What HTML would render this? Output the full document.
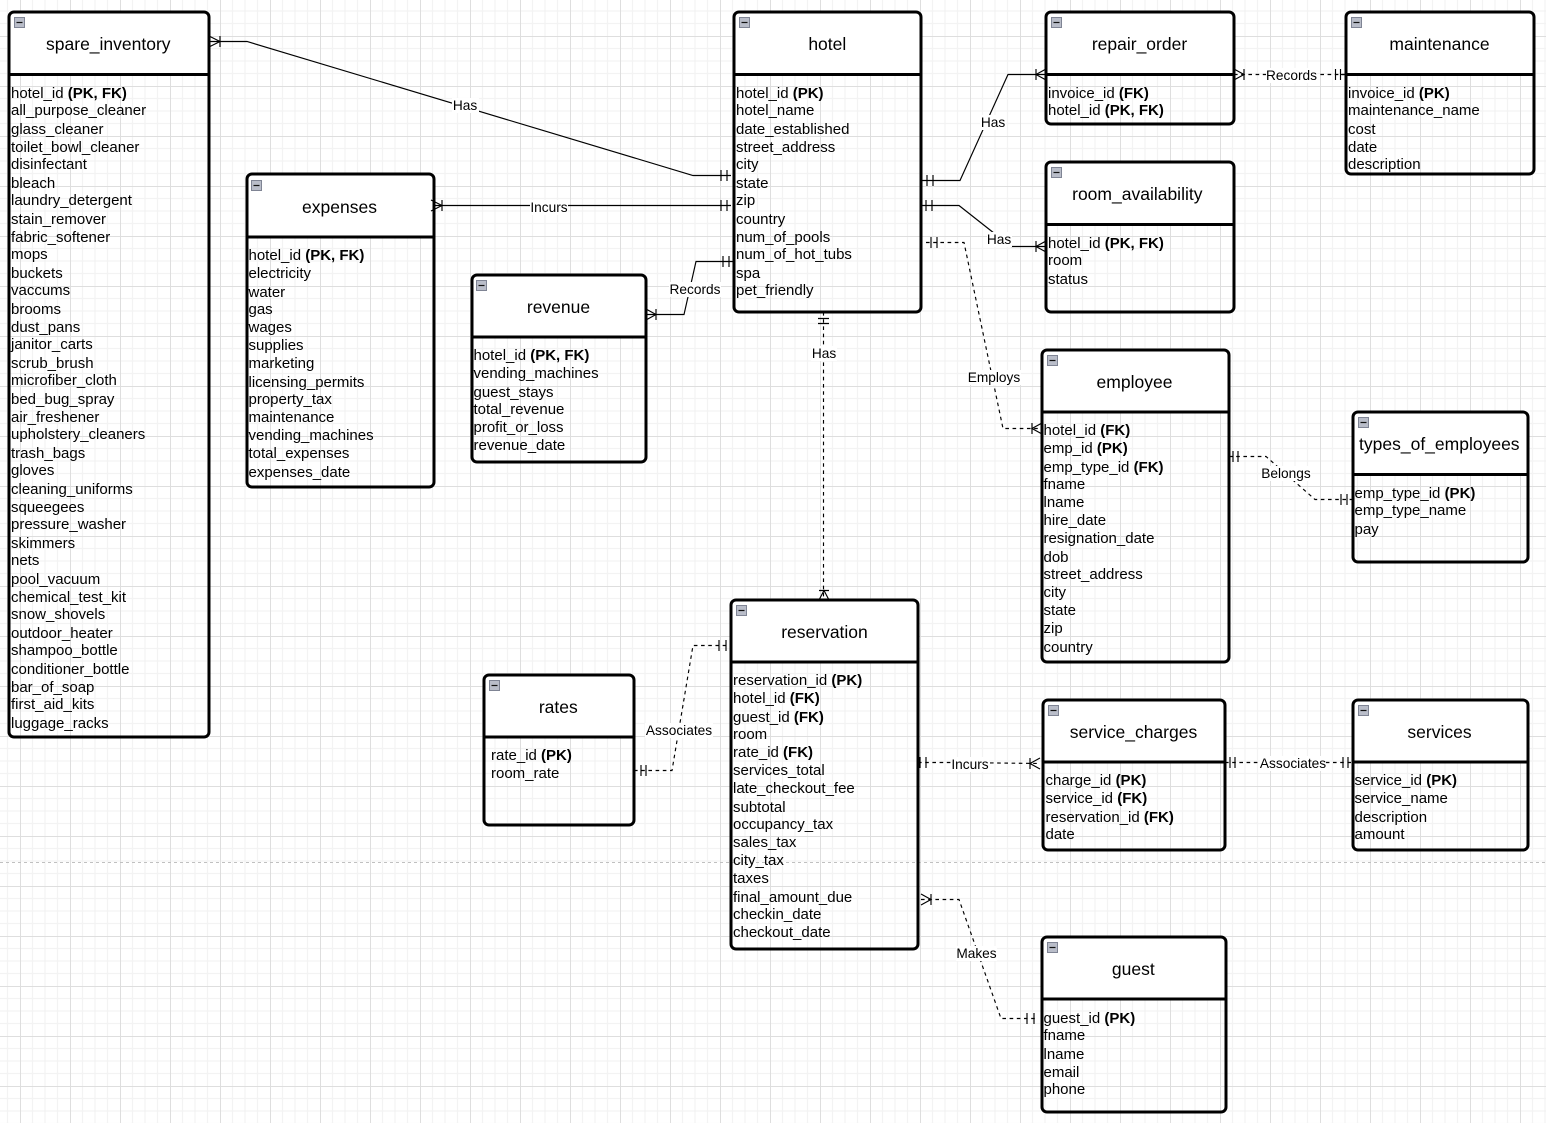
<!DOCTYPE html>
<html><head><meta charset="utf-8"><style>
html,body{margin:0;padding:0;background:#fff;width:1546px;height:1123px;overflow:hidden}
svg{display:block;font-family:"Liberation Sans",sans-serif}
.b{fill:none;stroke:#000;stroke-width:3}
.h{fill:#fff;stroke:none}
.l{stroke:#000;stroke-width:3;fill:none}
.c{fill:none;stroke:#000;stroke-width:1.15}
.d{fill:none;stroke:#000;stroke-width:1.15;stroke-dasharray:3.6 3.6}
.t{font-size:17.5px;text-anchor:middle;fill:#000}
.f{font-size:15px;fill:#000}
.f tspan.k{font-weight:bold}
.lb{font-size:13.7px;text-anchor:middle;fill:#000}
.m{fill:#b9bdc9;stroke:#7f8494;stroke-width:1}
</style></head><body>
<svg width="1546" height="1123" viewBox="0 0 1546 1123" xmlns="http://www.w3.org/2000/svg">
<defs>
<pattern id="ma" width="50" height="50" patternUnits="userSpaceOnUse" x="20" y="36">
<path d="M12.5 0V50M25 0V50M37.5 0V50M0 12.5H50M0 25H50M0 37.5H50" stroke="#f3f3f3" stroke-width="1.3" fill="none"/>
<path d="M0.5 0V50M0 0.5H50" stroke="#dedede" stroke-width="1" fill="none"/>
</pattern>
<g id="mn"><rect class="m" x="0.5" y="0.5" width="10" height="10"/><path d="M2.5 5.5H8.5" stroke="#111" stroke-width="1.2"/></g>
</defs>
<rect width="1546" height="1123" fill="#fff"/>
<rect width="1546" height="1123" fill="url(#ma)"/>
<path d="M0 862.5H1546" stroke="#c0c0c0" stroke-width="1" stroke-dasharray="3 3"/>

<!-- headers -->
<path class="h" d="M9 74V17a5 5 0 0 1 5-5H204a5 5 0 0 1 5 5V74Z"/>
<path class="h" d="M734 74V17a5 5 0 0 1 5-5H916a5 5 0 0 1 5 5V74Z"/>
<path class="h" d="M1046 74V17a5 5 0 0 1 5-5H1229a5 5 0 0 1 5 5V74Z"/>
<path class="h" d="M1346 74V17a5 5 0 0 1 5-5H1529a5 5 0 0 1 5 5V74Z"/>
<path class="h" d="M1046 224V167a5 5 0 0 1 5-5H1229a5 5 0 0 1 5 5V224Z"/>
<path class="h" d="M247 237V179a5 5 0 0 1 5-5H429a5 5 0 0 1 5 5V237Z"/>
<path class="h" d="M472 337V280a5 5 0 0 1 5-5H641a5 5 0 0 1 5 5V337Z"/>
<path class="h" d="M1042 412V355a5 5 0 0 1 5-5H1224a5 5 0 0 1 5 5V412Z"/>
<path class="h" d="M1353 474V417a5 5 0 0 1 5-5H1523a5 5 0 0 1 5 5V474Z"/>
<path class="h" d="M484 737V680a5 5 0 0 1 5-5H629a5 5 0 0 1 5 5V737Z"/>
<path class="h" d="M731 662V605a5 5 0 0 1 5-5H913a5 5 0 0 1 5 5V662Z"/>
<path class="h" d="M1043 762V705a5 5 0 0 1 5-5H1220a5 5 0 0 1 5 5V762Z"/>
<path class="h" d="M1353 762V705a5 5 0 0 1 5-5H1523a5 5 0 0 1 5 5V762Z"/>
<path class="h" d="M1042 999V942a5 5 0 0 1 5-5H1221a5 5 0 0 1 5 5V999Z"/>

<!-- connectors -->
<path class="c" d="M209 41.5H247L693 175.5H731"/>
<path class="c" d="M220 36V47M209 36L220 41.5L209 47M721 170V181M727 170V181"/>
<path class="c" d="M434 205.5H731"/>
<path class="c" d="M442 200V211M431 200L442 205.5L431 211M721 200V211M727 200V211"/>
<path class="c" d="M646 314.5H684L696 261.5H733"/>
<path class="c" d="M656 309V320M646 309L656 314.5L646 320M723 256V267M729 256V267"/>
<path class="c" d="M921 180.5H960L1008 74.5H1046"/>
<path class="c" d="M1036 69V80M1046 69L1036 74.5L1046 80M927 175V186M933 175V186"/>
<path class="c" d="M921 205.5H959L1011 246.5H1046"/>
<path class="c" d="M1036 241V252M1046 241L1036 246.5L1046 252M926 200V211M932 200V211"/>
<path class="d" d="M926 242.5H964L1003 428.5H1042"/>
<path class="c" d="M1032 423V434M1042 423L1032 428.5L1042 434M931 237V248M937 237V248"/>
<path class="d" d="M1234 74.5H1346"/>
<path class="c" d="M1244 69V80M1234 69L1244 74.5L1234 80M1335.5 69V80M1340.5 69V80M1340.5 74.5H1346"/>
<path class="d" d="M823.5 312V600"/>
<path class="c" d="M818 318.5H829M818 323.5H829M819 590.5H829M819 600L824 590.5L829 600"/>
<path class="d" d="M634 770.5H672L693 645.5H729"/>
<path class="c" d="M641 765V776M646 765V776M719 640V651M726 640V651"/>
<path class="d" d="M918 762.5H956L1040 763.5"/>
<path class="c" d="M920 757V768M926 757V768M1030 758V769M1040 758L1030 763.5L1040 769"/>
<path class="d" d="M1225 762.5H1353"/>
<path class="c" d="M1230 757V768M1235 757V768M1343 757V768M1348 757V768"/>
<path class="d" d="M1229 456.5H1266L1315 499.5H1353"/>
<path class="c" d="M1233 451V462M1238 451V462M1341 494V505M1347 494V505"/>
<path class="d" d="M921 899.5H959L1001 1018.5H1036"/>
<path class="c" d="M931 894V905M921 894L931 899.5L921 905M1027 1013V1024M1034 1013V1024"/>

<!-- connector labels -->
<rect x="452" y="98" width="27" height="15" fill="#fff"/><text class="lb" x="465" y="110">Has</text>
<rect x="530" y="200" width="38" height="15" fill="#fff"/><text class="lb" x="549" y="212">Incurs</text>
<rect x="669" y="282" width="52" height="15" fill="#fff"/><text class="lb" x="695" y="294">Records</text>
<rect x="980" y="115" width="26" height="15" fill="#fff"/><text class="lb" x="993" y="127">Has</text>
<rect x="987" y="232" width="25" height="15" fill="#fff"/><text class="lb" x="999" y="244">Has</text>
<rect x="967" y="370" width="54" height="15" fill="#fff"/><text class="lb" x="994" y="382">Employs</text>
<rect x="1266" y="68" width="51" height="15" fill="#fff"/><text class="lb" x="1291.5" y="80">Records</text>
<rect x="811" y="346" width="26" height="15" fill="#fff"/><text class="lb" x="824" y="358">Has</text>
<rect x="645" y="723" width="68" height="15" fill="#fff"/><text class="lb" x="679" y="735">Associates</text>
<rect x="952" y="757" width="37" height="15" fill="#fff"/><text class="lb" x="970" y="769">Incurs</text>
<rect x="1260" y="756" width="66" height="15" fill="#fff"/><text class="lb" x="1293" y="768">Associates</text>
<rect x="1261" y="466" width="50" height="15" fill="#fff"/><text class="lb" x="1286" y="478">Belongs</text>
<rect x="956" y="946" width="41" height="15" fill="#fff"/><text class="lb" x="976.5" y="958">Makes</text>

<!-- boxes -->
<rect class="b" x="9" y="12" width="200" height="725" rx="5"/><path class="l" d="M9 74.5H209"/>
<rect class="b" x="734" y="12" width="187" height="300" rx="5"/><path class="l" d="M734 74.5H921"/>
<rect class="b" x="1046" y="12" width="188" height="112" rx="5"/><path class="l" d="M1046 74.5H1234"/>
<rect class="b" x="1346" y="12" width="188" height="162" rx="5"/><path class="l" d="M1346 74.5H1534"/>
<rect class="b" x="1046" y="162" width="188" height="150" rx="5"/><path class="l" d="M1046 224.5H1234"/>
<rect class="b" x="247" y="174" width="187" height="313" rx="5"/><path class="l" d="M247 237H434"/>
<rect class="b" x="472" y="275" width="174" height="187" rx="5"/><path class="l" d="M472 337H646"/>
<rect class="b" x="1042" y="350" width="187" height="312" rx="5"/><path class="l" d="M1042 412H1229"/>
<rect class="b" x="1353" y="412" width="175" height="150" rx="5"/><path class="l" d="M1353 474.5H1528"/>
<rect class="b" x="484" y="675" width="150" height="150" rx="5"/><path class="l" d="M484 737H634"/>
<rect class="b" x="731" y="600" width="187" height="349" rx="5"/><path class="l" d="M731 662H918"/>
<rect class="b" x="1043" y="700" width="182" height="150" rx="5"/><path class="l" d="M1043 762H1225"/>
<rect class="b" x="1353" y="700" width="175" height="150" rx="5"/><path class="l" d="M1353 762H1528"/>
<rect class="b" x="1042" y="937" width="184" height="175" rx="5"/><path class="l" d="M1042 999H1226"/>

<!-- collapse icons -->
<use href="#mn" x="14" y="17"/><use href="#mn" x="739" y="17"/><use href="#mn" x="1051" y="17"/><use href="#mn" x="1351" y="17"/><use href="#mn" x="1051" y="167"/><use href="#mn" x="251" y="180"/><use href="#mn" x="476" y="280"/><use href="#mn" x="1047" y="355"/><use href="#mn" x="1358" y="417"/><use href="#mn" x="489" y="680"/><use href="#mn" x="736" y="605"/><use href="#mn" x="1048" y="705"/><use href="#mn" x="1358" y="705"/><use href="#mn" x="1047" y="942"/>

<!-- titles -->
<text class="t" x="108.3" y="50">spare_inventory</text>
<text class="t" x="827.3" y="50">hotel</text>
<text class="t" x="1139.5" y="50">repair_order</text>
<text class="t" x="1439.5" y="50">maintenance</text>
<text class="t" x="1137.3" y="200">room_availability</text>
<text class="t" x="339.5" y="213">expenses</text>
<text class="t" x="558.5" y="313">revenue</text>
<text class="t" x="1134.5" y="388">employee</text>
<text class="t" x="1439.3" y="450">types_of_employees</text>
<text class="t" x="558.3" y="713">rates</text>
<text class="t" x="824.5" y="638">reservation</text>
<text class="t" x="1133.5" y="738">service_charges</text>
<text class="t" x="1439.5" y="738">services</text>
<text class="t" x="1133.3" y="975">guest</text>

<!-- fields -->
<text class="f">
<tspan x="11" y="98">hotel_id <tspan class="k">(PK, FK)</tspan></tspan>
<tspan x="11" y="115">all_purpose_cleaner</tspan>
<tspan x="11" y="134">glass_cleaner</tspan>
<tspan x="11" y="152">toilet_bowl_cleaner</tspan>
<tspan x="11" y="169">disinfectant</tspan>
<tspan x="11" y="188">bleach</tspan>
<tspan x="11" y="205">laundry_detergent</tspan>
<tspan x="11" y="224">stain_remover</tspan>
<tspan x="11" y="242">fabric_softener</tspan>
<tspan x="11" y="259">mops</tspan>
<tspan x="11" y="278">buckets</tspan>
<tspan x="11" y="295">vaccums</tspan>
<tspan x="11" y="314">brooms</tspan>
<tspan x="11" y="332">dust_pans</tspan>
<tspan x="11" y="349">janitor_carts</tspan>
<tspan x="11" y="368">scrub_brush</tspan>
<tspan x="11" y="385">microfiber_cloth</tspan>
<tspan x="11" y="404">bed_bug_spray</tspan>
<tspan x="11" y="422">air_freshener</tspan>
<tspan x="11" y="439">upholstery_cleaners</tspan>
<tspan x="11" y="458">trash_bags</tspan>
<tspan x="11" y="475">gloves</tspan>
<tspan x="11" y="494">cleaning_uniforms</tspan>
<tspan x="11" y="512">squeegees</tspan>
<tspan x="11" y="529">pressure_washer</tspan>
<tspan x="11" y="548">skimmers</tspan>
<tspan x="11" y="565">nets</tspan>
<tspan x="11" y="584">pool_vacuum</tspan>
<tspan x="11" y="602">chemical_test_kit</tspan>
<tspan x="11" y="619">snow_shovels</tspan>
<tspan x="11" y="638">outdoor_heater</tspan>
<tspan x="11" y="655">shampoo_bottle</tspan>
<tspan x="11" y="674">conditioner_bottle</tspan>
<tspan x="11" y="692">bar_of_soap</tspan>
<tspan x="11" y="709">first_aid_kits</tspan>
<tspan x="11" y="728">luggage_racks</tspan>
</text>
<text class="f">
<tspan x="736" y="98">hotel_id <tspan class="k">(PK)</tspan></tspan>
<tspan x="736" y="115">hotel_name</tspan>
<tspan x="736" y="134">date_established</tspan>
<tspan x="736" y="152">street_address</tspan>
<tspan x="736" y="169">city</tspan>
<tspan x="736" y="188">state</tspan>
<tspan x="736" y="205">zip</tspan>
<tspan x="736" y="224">country</tspan>
<tspan x="736" y="242">num_of_pools</tspan>
<tspan x="736" y="259">num_of_hot_tubs</tspan>
<tspan x="736" y="278">spa</tspan>
<tspan x="736" y="295">pet_friendly</tspan>
</text>
<text class="f">
<tspan x="1048" y="98">invoice_id <tspan class="k">(FK)</tspan></tspan>
<tspan x="1048" y="115">hotel_id <tspan class="k">(PK, FK)</tspan></tspan>
<tspan x="1048" y="248">hotel_id <tspan class="k">(PK, FK)</tspan></tspan>
<tspan x="1048" y="265">room</tspan>
<tspan x="1048" y="284">status</tspan>
</text>
<text class="f">
<tspan x="1348" y="98">invoice_id <tspan class="k">(PK)</tspan></tspan>
<tspan x="1348" y="115">maintenance_name</tspan>
<tspan x="1348" y="134">cost</tspan>
<tspan x="1348" y="152">date</tspan>
<tspan x="1348" y="169">description</tspan>
</text>
<text class="f">
<tspan x="248.5" y="260">hotel_id <tspan class="k">(PK, FK)</tspan></tspan>
<tspan x="248.5" y="278">electricity</tspan>
<tspan x="248.5" y="297">water</tspan>
<tspan x="248.5" y="314">gas</tspan>
<tspan x="248.5" y="332">wages</tspan>
<tspan x="248.5" y="350">supplies</tspan>
<tspan x="248.5" y="368">marketing</tspan>
<tspan x="248.5" y="387">licensing_permits</tspan>
<tspan x="248.5" y="404">property_tax</tspan>
<tspan x="248.5" y="422">maintenance</tspan>
<tspan x="248.5" y="440">vending_machines</tspan>
<tspan x="248.5" y="458">total_expenses</tspan>
<tspan x="248.5" y="477">expenses_date</tspan>
</text>
<text class="f">
<tspan x="473.5" y="360">hotel_id <tspan class="k">(PK, FK)</tspan></tspan>
<tspan x="473.5" y="378">vending_machines</tspan>
<tspan x="473.5" y="397">guest_stays</tspan>
<tspan x="473.5" y="414">total_revenue</tspan>
<tspan x="473.5" y="432">profit_or_loss</tspan>
<tspan x="473.5" y="450">revenue_date</tspan>
</text>
<text class="f">
<tspan x="1043.5" y="435">hotel_id <tspan class="k">(FK)</tspan></tspan>
<tspan x="1043.5" y="453">emp_id <tspan class="k">(PK)</tspan></tspan>
<tspan x="1043.5" y="472">emp_type_id <tspan class="k">(FK)</tspan></tspan>
<tspan x="1043.5" y="489">fname</tspan>
<tspan x="1043.5" y="507">lname</tspan>
<tspan x="1043.5" y="525">hire_date</tspan>
<tspan x="1043.5" y="543">resignation_date</tspan>
<tspan x="1043.5" y="562">dob</tspan>
<tspan x="1043.5" y="579">street_address</tspan>
<tspan x="1043.5" y="597">city</tspan>
<tspan x="1043.5" y="615">state</tspan>
<tspan x="1043.5" y="633">zip</tspan>
<tspan x="1043.5" y="652">country</tspan>
</text>
<text class="f">
<tspan x="1354.5" y="498">emp_type_id <tspan class="k">(PK)</tspan></tspan>
<tspan x="1354.5" y="515">emp_type_name</tspan>
<tspan x="1354.5" y="534">pay</tspan>
</text>
<text class="f">
<tspan x="491" y="760">rate_id <tspan class="k">(PK)</tspan></tspan>
<tspan x="491" y="778">room_rate</tspan>
</text>
<text class="f">
<tspan x="733" y="685">reservation_id <tspan class="k">(PK)</tspan></tspan>
<tspan x="733" y="703">hotel_id <tspan class="k">(FK)</tspan></tspan>
<tspan x="733" y="722">guest_id <tspan class="k">(FK)</tspan></tspan>
<tspan x="733" y="739">room</tspan>
<tspan x="733" y="757">rate_id <tspan class="k">(FK)</tspan></tspan>
<tspan x="733" y="775">services_total</tspan>
<tspan x="733" y="793">late_checkout_fee</tspan>
<tspan x="733" y="812">subtotal</tspan>
<tspan x="733" y="829">occupancy_tax</tspan>
<tspan x="733" y="847">sales_tax</tspan>
<tspan x="733" y="865">city_tax</tspan>
<tspan x="733" y="883">taxes</tspan>
<tspan x="733" y="902">final_amount_due</tspan>
<tspan x="733" y="919">checkin_date</tspan>
<tspan x="733" y="937">checkout_date</tspan>
</text>
<text class="f">
<tspan x="1045.5" y="785">charge_id <tspan class="k">(PK)</tspan></tspan>
<tspan x="1045.5" y="803">service_id <tspan class="k">(FK)</tspan></tspan>
<tspan x="1045.5" y="822">reservation_id <tspan class="k">(FK)</tspan></tspan>
<tspan x="1045.5" y="839">date</tspan>
</text>
<text class="f">
<tspan x="1354.5" y="785">service_id <tspan class="k">(PK)</tspan></tspan>
<tspan x="1354.5" y="803">service_name</tspan>
<tspan x="1354.5" y="822">description</tspan>
<tspan x="1354.5" y="839">amount</tspan>
</text>
<text class="f">
<tspan x="1043.5" y="1023">guest_id <tspan class="k">(PK)</tspan></tspan>
<tspan x="1043.5" y="1040">fname</tspan>
<tspan x="1043.5" y="1059">lname</tspan>
<tspan x="1043.5" y="1077">email</tspan>
<tspan x="1043.5" y="1094">phone</tspan>
</text>
</svg>
</body></html>
